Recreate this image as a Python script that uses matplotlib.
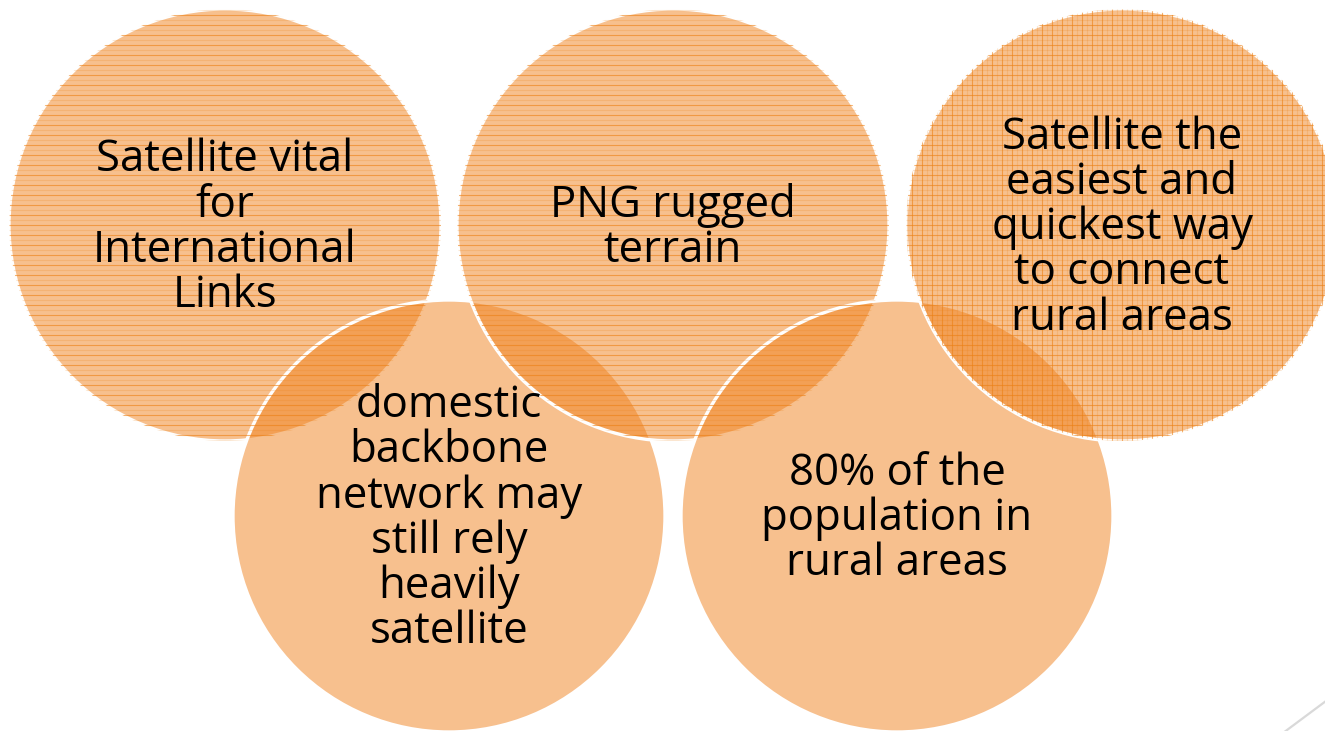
"""
Five overlapping circles (SmartArt style) with short statements about
satellite links in PNG. Saves out.png.
"""

import numpy as np
import matplotlib
matplotlib.use("Agg")
import matplotlib.pyplot as plt
from matplotlib.patches import Circle

OUT_PATH = "out.png"
W, H = 1325, 731

# circles in drawing order: top-left, bottom-left, top-middle, bottom-right, top-right
LABELS = [
    "Satellite vital\nfor\nInternational\nLinks",
    "domestic\nbackbone\nnetwork may\nstill rely\nheavily\nsatellite",
    "PNG rugged\nterrain",
    "80% of the\npopulation in\nrural areas",
    "Satellite the\neasiest and\nquickest way\nto connect\nrural areas",
]
CENTER_X = [225, 449, 673, 897, 1122]
CENTER_Y = [225, 516, 225, 516, 225]
RADIUS = 216
PATTERNS = ["lines", None, "lines", None, "grid"]

FILL = (240 / 255, 130 / 255, 30 / 255, 0.5)
LINE_COLOR = (236 / 255, 128 / 255, 20 / 255)
FONT = ["Open Sans", "DejaVu Sans"]


def add_pattern(ax, clip, cx, cy, kind, step=10):
    ys = np.arange(cy - RADIUS - 4, cy + RADIUS + 5, step)
    strong = ax.hlines(ys, cx - RADIUS, cx + RADIUS, colors=[LINE_COLOR],
                       linewidth=0.8, alpha=0.6)
    faint = ax.hlines(ys + step / 2, cx - RADIUS, cx + RADIUS, colors=[LINE_COLOR],
                      linewidth=0.8, alpha=0.2)
    parts = [strong, faint]
    if kind == "grid":
        xs = np.arange(cx - RADIUS - 4, cx + RADIUS + 5, step)
        parts.append(ax.vlines(xs, cy - RADIUS, cy + RADIUS, colors=[LINE_COLOR],
                               linewidth=0.8, alpha=0.6))
        parts.append(ax.vlines(xs + step / 2, cy - RADIUS, cy + RADIUS,
                               colors=[LINE_COLOR], linewidth=0.8, alpha=0.2))
    for p in parts:
        p.set_clip_path(clip)


def main():
    fig = plt.figure(figsize=(W / 100, H / 100), dpi=100)
    ax = fig.add_axes([0, 0, 1, 1])
    ax.set_xlim(0, W)
    ax.set_ylim(H, 0)
    ax.axis("off")

    for label, cx, cy, kind in zip(LABELS, CENTER_X, CENTER_Y, PATTERNS):
        disc = Circle((cx, cy), RADIUS, facecolor=FILL, edgecolor="none")
        ax.add_patch(disc)
        if kind:
            add_pattern(ax, disc, cx, cy, kind)
        ax.add_patch(Circle((cx, cy), RADIUS, facecolor="none",
                            edgecolor="white", linewidth=2.4))

    # text goes on top of every circle
    for label, cx, cy in zip(LABELS, CENTER_X, CENTER_Y):
        ax.text(cx, cy + 3, label, ha="center", va="center", fontsize=31.5,
                family=FONT, color="black", linespacing=1.02)

    # slide decoration in the bottom-right corner
    ax.plot([1283, 1330], [733, 698], color="#d9d9d9", linewidth=1.6,
            solid_capstyle="butt")

    fig.savefig(OUT_PATH, dpi=100)
    print(f"saved {OUT_PATH}")


if __name__ == "__main__":
    main()
